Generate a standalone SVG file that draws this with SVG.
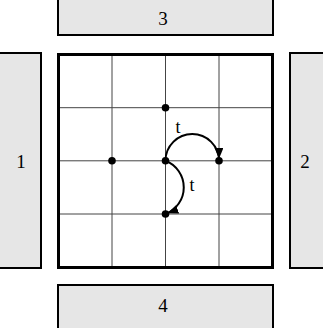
<svg xmlns="http://www.w3.org/2000/svg" width="323" height="328" viewBox="0 0 323 328">
<style>
.side{fill:#e6e6e6;stroke:#000;stroke-width:2}
.lbl{font-family:"Liberation Serif","Times New Roman",serif;font-size:19px;fill:#000;text-anchor:middle}
.t{font-family:"Liberation Serif","Times New Roman",serif;font-size:18px;fill:#000;text-anchor:middle}
.grid{stroke:#444;stroke-width:1;fill:none}
.arc{stroke:#000;stroke-width:2;fill:none}
.dot{fill:#000}
</style>
<defs>
<marker id="ah" markerUnits="userSpaceOnUse" markerWidth="13" markerHeight="10" refX="13" refY="4.5" orient="auto">
<path d="M0,0 L11,4.5 L0,9 z" fill="#000"/>
</marker>
</defs>
<g id="box3"><rect class="side" x="58" y="-5" width="215" height="40"/><text class="lbl" x="163" y="25">3</text></g>
<g id="box1"><rect class="side" x="-5" y="53" width="46" height="215"/><text class="lbl" x="21" y="168">1</text></g>
<g id="box2"><rect class="side" x="290" y="53" width="40" height="215"/><text class="lbl" x="305" y="168">2</text></g>
<g id="box4"><rect class="side" x="58" y="285" width="215" height="50"/><text class="lbl" x="163" y="312">4</text></g>
<g id="board">
<rect x="58.5" y="54.5" width="214" height="213" fill="#fff" stroke="none"/>
<path class="grid" d="M112,54.5V267.5M165.5,54.5V267.5M219,54.5V267.5M58.5,107.7H272.5M58.5,160.8H272.5M58.5,214H272.5"/>
<rect x="58.5" y="54.5" width="214" height="213" fill="none" stroke="#000" stroke-width="3"/>
</g>
<g id="dots">
<circle class="dot" cx="165.5" cy="107.7" r="3.8"/>
<circle class="dot" cx="112" cy="160.8" r="3.8"/>
<circle class="dot" cx="165.5" cy="160.8" r="3.8"/>
<circle class="dot" cx="219" cy="160.8" r="3.8"/>
<circle class="dot" cx="165.5" cy="214" r="3.8"/>
</g>
<g id="connectors">
<path class="arc" d="M165.5,160.8 A26.75,26.75 0 0 1 219,160.8" marker-end="url(#ah)"/>
<path class="arc" d="M165.5,160.8 A28.5,28.5 0 0 1 165.5,214" marker-end="url(#ah)"/>
<text class="t" x="178" y="133">t</text>
<text class="t" x="192" y="191">t</text>
</g>
</svg>
